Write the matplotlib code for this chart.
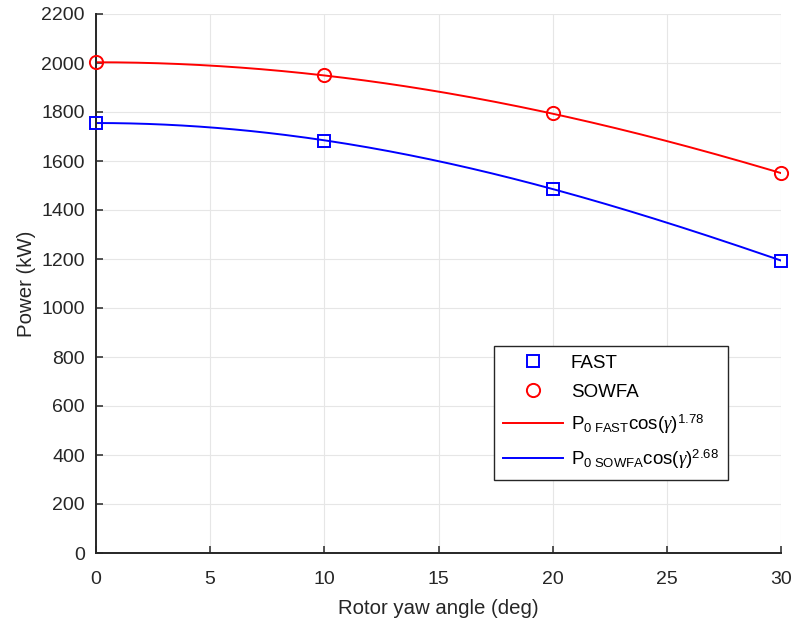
import numpy as np
import matplotlib.pyplot as plt

plt.rcParams['font.family'] = ['Liberation Sans', 'DejaVu Sans']
plt.rcParams['mathtext.fontset'] = 'custom'
plt.rcParams['mathtext.rm'] = 'Liberation Sans'
plt.rcParams['mathtext.it'] = 'Liberation Serif:italic'

# measured power at each yaw angle
yaw = [0, 10, 20, 30]
power_fast = [1755, 1683, 1486, 1192]
power_sowfa = [2003, 1950, 1795, 1550]

# cosine fits: P0 * cos(gamma)^p
p0_fast, exp_fast = 2003, 1.78
p0_sowfa, exp_sowfa = 1755, 2.68

gamma = np.linspace(0, 30, 200)
fit_fast = p0_fast * np.cos(np.radians(gamma)) ** exp_fast
fit_sowfa = p0_sowfa * np.cos(np.radians(gamma)) ** exp_sowfa

fig = plt.figure(figsize=(7.93, 6.25), dpi=100)
ax = fig.add_axes([0.121, 0.1152, 0.864, 0.8624])

ax.plot(yaw, power_fast, 's', ms=8, mfc='none', mec='#0000ff', mew=1.4,
        label='FAST', clip_on=False, zorder=4)
ax.plot(yaw, power_sowfa, 'o', ms=9.5, mfc='none', mec='#ff0000', mew=1.4,
        label='SOWFA', clip_on=False, zorder=4)
ax.plot(gamma, fit_fast, color='#ff0000', lw=1.4,
        label=r'P$_{\mathrm{0\ FAST}}$cos($\gamma$)$^{\mathrm{1.78}}$')
ax.plot(gamma, fit_sowfa, color='#0000ff', lw=1.4,
        label=r'P$_{\mathrm{0\ SOWFA}}$cos($\gamma$)$^{\mathrm{2.68}}$')

ax.set_xlim(0, 30)
ax.set_ylim(0, 2200)
ax.set_xticks(range(0, 31, 5))
ax.set_yticks(range(0, 2201, 200))
ax.grid(True, color='#e6e6e6', lw=0.8)
ax.set_axisbelow(True)
for side in ['top', 'right']:
    ax.spines[side].set_visible(False)
for side in ['left', 'bottom']:
    ax.spines[side].set_color('#262626')
    ax.spines[side].set_linewidth(1.4)
ax.tick_params(direction='in', length=5, width=1.1, colors='#262626',
               labelsize=14)
ax.tick_params(axis='x', pad=13)
ax.tick_params(axis='y', pad=8)

ax.set_xlabel('Rotor yaw angle (deg)', fontsize=14.7, color='#262626', labelpad=8)
ax.set_ylabel('Power (kW)', fontsize=14.7, color='#262626', labelpad=4)

leg = ax.legend(loc='lower left', bbox_to_anchor=(0.581, 0.135), fontsize=13.5,
                fancybox=False, edgecolor='#262626', framealpha=1,
                handlelength=3.2, handletextpad=0.4, borderpad=0.5,
                labelspacing=0.62, borderaxespad=0)
leg.get_frame().set_linewidth(1.0)

fig.savefig('out.png', dpi=100)
